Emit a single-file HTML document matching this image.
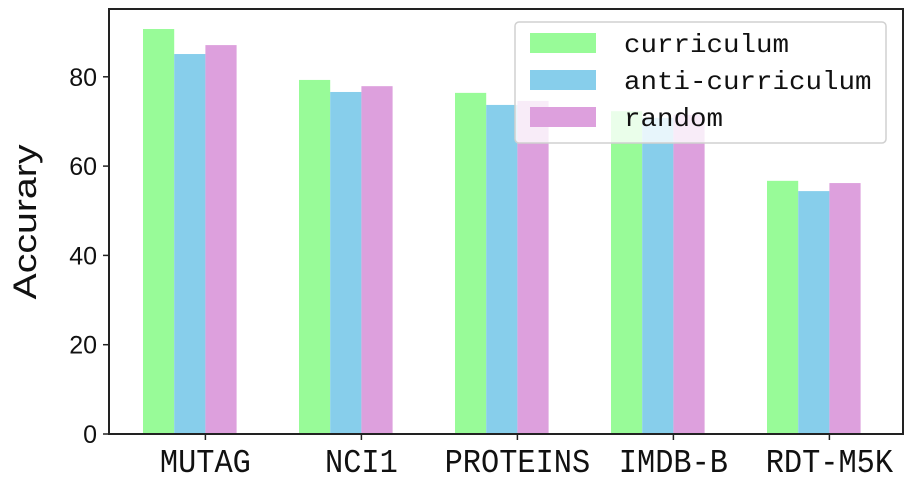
<!DOCTYPE html>
<html><head><meta charset="utf-8"><style>
html,body{margin:0;padding:0;background:#fff;}
svg{display:block;font-family:"Liberation Mono","DejaVu Sans Mono",monospace;}
</style></head><body>
<svg id="chart" width="914" height="485" viewBox="0 0 914 485"></svg>
<script>
const categories = ["MUTAG","NCI1","PROTEINS","IMDB-B","RDT-M5K"];
const seriesNames = ["curriculum","anti-curriculum","random"];
const curriculum = [90.7, 79.3, 76.4, 72.3, 56.7];
const antiCurriculum = [85.1, 76.6, 73.7, 70.8, 54.4];
const randomVals = [87.1, 77.9, 74.6, 71.5, 56.2];
const yTicks = [0, 20, 40, 60, 80];

const NS = "http://www.w3.org/2000/svg";
const svg = document.getElementById("chart");
const colors = ["#98fb98", "#87ceeb", "#dda0dd"];
const series = [curriculum, antiCurriculum, randomVals];
const L = 109, R = 903, T = 9, B = 434;
const y = v => B - v * 4.465;
const groupStart = i => 143 + 156 * i;
const barW = 31.2;
function el(tag, attrs, parent) {
  const e = document.createElementNS(NS, tag);
  for (const k in attrs) e.setAttribute(k, attrs[k]);
  (parent || svg).appendChild(e);
  return e;
}
series.forEach((s, si) => {
  s.forEach((v, i) => {
    const r = el("rect", {x: groupStart(i) + si * barW, y: y(v), width: barW, height: B - y(v), fill: colors[si]});
    
    
  });
});
const frame = el("rect", {x: L, y: T, width: R - L, height: B - T, fill: "none", stroke: "#222", "stroke-width": 2});


yTicks.forEach(t => {
  el("line", {x1: L - 6, x2: L, y1: y(t), y2: y(t), stroke: "#222", "stroke-width": 1.5});
  const tx = el("text", {x: L - 12, y: y(t) + 9, "text-anchor": "end", "font-size": 25, "font-family": "Liberation Sans, sans-serif", fill: "#111"});
  tx.textContent = t;
  
  
});
categories.forEach((c, i) => {
  const cx = groupStart(i) + 2 * barW;
  el("line", {x1: cx, x2: cx, y1: B, y2: B + 6, stroke: "#222", "stroke-width": 1.5});
  const w = c.length * 18.2;
  const tx = el("text", {x: cx, y: 472, "text-anchor": "middle", "font-size": 33, textLength: w, lengthAdjust: "spacingAndGlyphs", fill: "#111"});
  tx.textContent = c;
  
  
});
const yt = el("text", {x: 0, y: 0, transform: "translate(36,222) rotate(-90)", "text-anchor": "middle", "font-size": 32, textLength: 155, lengthAdjust: "spacingAndGlyphs", "font-family": "Liberation Sans, sans-serif", fill: "#111"});
yt.textContent = "Accurary";


const lg = el("g", {});


el("rect", {x: 515, y: 22, width: 371, height: 121, rx: 4, fill: "rgba(255,255,255,0.8)", stroke: "#d0d0d0", "stroke-width": 1.5}, lg);
seriesNames.forEach((n, i) => {
  const yy = 33 + i * 37;
  const sw = el("rect", {x: 530, y: yy, width: 66, height: 20, fill: colors[i]}, lg);
  
  
  const t = el("text", {x: 624, y: yy + 19, "font-size": 26, textLength: n.length * 16.5, lengthAdjust: "spacingAndGlyphs", fill: "#111"}, lg);
  t.textContent = n;
  
  
});
</script>
</body></html>
